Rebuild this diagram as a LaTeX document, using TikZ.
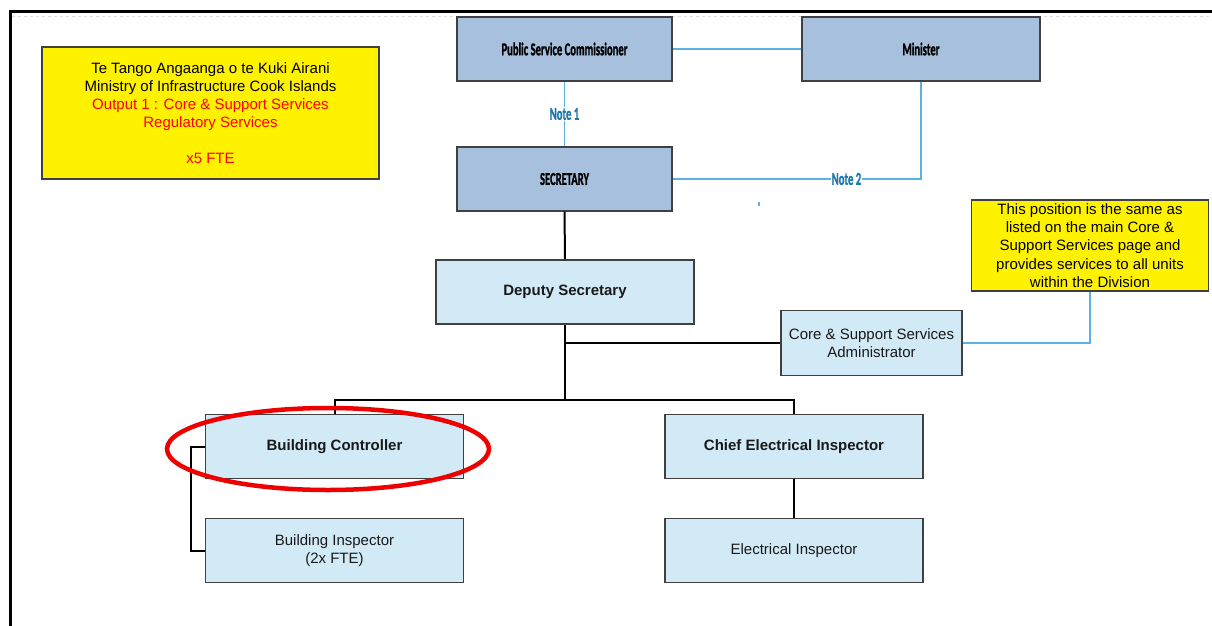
\documentclass[tikz,border=0pt]{standalone}
\usepackage{fontspec}
\usepackage{graphicx}
\setmainfont{Liberation Sans}
\newfontfamily\calibf{Carlito}[BoldFont={Carlito Bold},BoldFeatures={FakeBold=1.5}]
\definecolor{topfill}{HTML}{A7C0DD}
\definecolor{lightfill}{HTML}{D2EAF6}
\definecolor{boxedge}{HTML}{404040}
\definecolor{lineblue}{HTML}{5BB2E2}
\definecolor{noteblue}{HTML}{1F78AC}
\definecolor{ovalred}{HTML}{EE0000}
\newcommand{\sq}[1]{\scalebox{0.59}[1]{#1}}
\tikzset{
  base/.style={draw=boxedge, line width=1.1pt, inner sep=0pt, align=center,
    font=\fontsize{15}{18}\selectfont},
  topbox/.style={base, fill=topfill, minimum width=215pt, minimum height=64pt,
    font=\fontsize{18}{20}\selectfont\calibf\bfseries},
  lbox/.style={base, fill=lightfill, minimum width=258pt, minimum height=64pt, text=black!90},
  ybox/.style={base, fill=yellow},
  blueline/.style={draw=lineblue, line width=1.3pt},
  blackline/.style={draw=black, line width=2pt},
  notelbl/.style={fill=white, inner sep=1pt, text=noteblue,
    font=\fontsize{18}{20}\selectfont\calibf\bfseries},
}
\begin{document}
\begin{tikzpicture}[x=1pt,y=-1pt]
\useasboundingbox (0,0) rectangle (1212,626);
\fill[white] (0,0) rectangle (1212,626);
% frame
\draw[line width=3pt] (10,640) -- (10,12) -- (1220,12);
\draw[gray!25, dashed, line width=0.5pt] (12,16.5) -- (1212,16.5);

% yellow title box
\node[ybox, minimum width=337pt, minimum height=132pt] (title) at (210.5,113)
  {Te Tango Angaanga o te Kuki Airani\\
   Ministry of Infrastructure Cook Islands\\
   \textcolor{red}{Output 1 : Core \& Support Services}\\
   \textcolor{red}{Regulatory Services}\\[18pt]
   \textcolor{red}{x5 FTE}};

% top boxes
\node[topbox] (psc) at (564.5,49) {\sq{Public Service Commissioner}};
\node[topbox, minimum width=238pt] (min) at (921,49) {\sq{Minister}};
\node[topbox] (sec) at (564.5,179) {\sq{SECRETARY}};

% light boxes
\node[lbox, font=\fontsize{15}{18}\selectfont\bfseries] (dep) at (565,292) {Deputy Secretary};
\node[lbox, minimum width=181pt, minimum height=65pt] (adm) at (871.5,343)
  {Core \& Support Services\\Administrator};
\node[lbox, font=\fontsize{15}{18}\selectfont\bfseries] (bc) at (334.5,446.5) {Building Controller};
\node[lbox, font=\fontsize{15}{18}\selectfont\bfseries] (cei) at (794,446.5) {Chief Electrical Inspector};
\node[lbox] (bi) at (334.5,550.5) {Building Inspector\\(2x FTE)};
\node[lbox] (ei) at (794,550.5) {Electrical Inspector};

% yellow note
\node[ybox, minimum width=237pt, minimum height=91pt, font=\fontsize{15}{18.3}\selectfont] (note) at (1090,245.5)
  {This position is the same as\\listed on the main Core \&\\Support Services page and\\provides services to all units\\within the Division};

% blue connectors
\draw[blueline] (psc.east) -- (min.west);
\draw[blueline] (psc.south) -- node[notelbl] {\sq{Note 1}} (sec.north);
\draw[blueline] (sec.east) -| node[notelbl, pos=0.35] {\sq{Note 2}} (min.south);
\draw[blueline] (adm.east) -| (note.south);
\draw[blueline] (759,202) -- (759,206);

% black connectors
\coordinate (j) at (565,400);
\draw[blackline] (sec.south) -- (dep.north);
\draw[blackline] (dep.south) -- (j);
\draw[blackline] (dep.south |- adm.west) -- (adm.west);
\draw[blackline] (bc.north) |- (j) -| (cei.north);
\draw[blackline] (bc.west) -- ++(-14,0) |- (bi.west);
\draw[blackline] (cei.south) -- (ei.north);

% red highlight
\draw[ovalred, line width=4.5pt] (328,449) ellipse [x radius=161pt, y radius=41pt];
\end{tikzpicture}
\end{document}
